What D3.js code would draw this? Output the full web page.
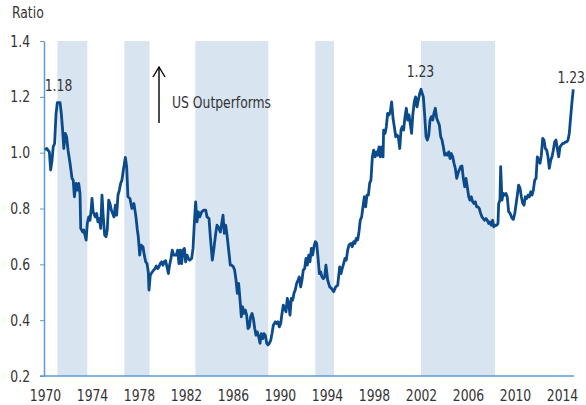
<!DOCTYPE html>
<html lang="en">
<head>
	<script src="https://cdnjs.cloudflare.com/ajax/libs/d3/7.8.5/d3.min.js"></script>
	<style>
		body{ margin: 0; background: #fff; }
		svg text{
			font-family: "Liberation Sans Narrow", "DejaVu Sans Condensed", sans-serif;
			font-size: 16px;
			fill: #333;
		}
		.axis path, .axis line{ stroke: #5b9bd5; }
	</style>
</head>
<body>
<svg width="586" height="405"></svg>

<script>

	// US vs rest-of-world ratio
	const years = [
		1970.0, 1970.14, 1970.37, 1970.48, 1970.6, 1970.7, 1970.82, 1970.94, 1971.05, 1971.28, 1971.39, 1971.5, 1971.6, 1971.73, 1971.84, 1971.96,
		1972.13, 1972.3, 1972.4, 1972.5, 1972.64, 1972.75, 1972.87, 1972.98, 1973.04, 1973.2, 1973.3, 1973.5, 1973.6, 1973.72, 1973.83, 1973.94,
		1974.0, 1974.1, 1974.28, 1974.4, 1974.5, 1974.62, 1974.74, 1974.85, 1974.96, 1975.08, 1975.19, 1975.3, 1975.42, 1975.53, 1975.65, 1975.76,
		1975.87, 1975.99, 1976.1, 1976.21, 1976.33, 1976.44, 1976.55, 1976.67, 1976.84, 1976.95, 1977.06, 1977.23, 1977.4, 1977.57, 1977.74,
		1977.86, 1977.94, 1978.06, 1978.17, 1978.34, 1978.45, 1978.57, 1978.68, 1978.79, 1978.85, 1978.96, 1979.13, 1979.25, 1979.36, 1979.47,
		1979.59, 1979.7, 1979.81, 1979.93, 1980.04, 1980.15, 1980.27, 1980.38, 1980.5, 1980.6, 1980.72, 1980.83, 1980.95, 1981.06, 1981.17,
		1981.29, 1981.4, 1981.51, 1981.63, 1981.74, 1981.86, 1981.97, 1982.09, 1982.2, 1982.31, 1982.48, 1982.6, 1982.7, 1982.82, 1982.94,
		1983.05, 1983.17, 1983.34, 1983.5, 1983.68, 1983.79, 1983.96, 1984.07, 1984.24, 1984.36, 1984.53, 1984.64, 1984.81, 1984.92, 1985.04,
		1985.15, 1985.26, 1985.38, 1985.49, 1985.6, 1985.77, 1985.89, 1986.03, 1986.14, 1986.26, 1986.37, 1986.48, 1986.6, 1986.71, 1986.82,
		1986.94, 1987.05, 1987.16, 1987.28, 1987.39, 1987.5, 1987.62, 1987.73, 1987.85, 1987.96, 1988.07, 1988.19, 1988.3, 1988.41, 1988.53,
		1988.64, 1988.75, 1988.87, 1988.98, 1989.09, 1989.21, 1989.32, 1989.43, 1989.6, 1989.72, 1989.83, 1989.94, 1990.06, 1990.17, 1990.28,
		1990.4, 1990.51, 1990.62, 1990.74, 1990.85, 1990.96, 1991.08, 1991.19, 1991.3, 1991.42, 1991.53, 1991.64, 1991.76, 1991.87, 1991.98,
		1992.1, 1992.21, 1992.33, 1992.44, 1992.55, 1992.67, 1992.78, 1992.89, 1993.01, 1993.12, 1993.23, 1993.35, 1993.46, 1993.57, 1993.69,
		1993.8, 1993.91, 1994.06, 1994.23, 1994.4, 1994.57, 1994.74, 1994.91, 1995.08, 1995.19, 1995.3, 1995.42, 1995.53, 1995.64, 1995.76,
		1995.87, 1996.04, 1996.15, 1996.27, 1996.38, 1996.49, 1996.61, 1996.72, 1996.83, 1996.95, 1997.06, 1997.18, 1997.29, 1997.4, 1997.52,
		1997.63, 1997.74, 1997.86, 1997.97, 1998.09, 1998.2, 1998.31, 1998.43, 1998.54, 1998.65, 1998.77, 1998.82, 1998.94, 1999.05, 1999.16,
		1999.28, 1999.39, 1999.5, 1999.62, 1999.73, 1999.85, 1999.96, 2000.07, 2000.19, 2000.3, 2000.4, 2000.52, 2000.64, 2000.75, 2000.87,
		2000.98, 2001.1, 2001.2, 2001.3, 2001.43, 2001.54, 2001.66, 2001.77, 2001.89, 2002.0, 2002.2, 2002.32, 2002.43, 2002.54, 2002.66,
		2002.77, 2002.88, 2003.0, 2003.1, 2003.22, 2003.34, 2003.45, 2003.56, 2003.68, 2003.79, 2003.9, 2004.02, 2004.13, 2004.24, 2004.36,
		2004.47, 2004.58, 2004.7, 2004.81, 2004.92, 2005.04, 2005.15, 2005.26, 2005.38, 2005.49, 2005.6, 2005.72, 2005.83, 2005.94, 2006.06,
		2006.17, 2006.28, 2006.4, 2006.5, 2006.62, 2006.74, 2006.85, 2006.96, 2007.08, 2007.19, 2007.3, 2007.42, 2007.53, 2007.64, 2007.76,
		2007.87, 2007.98, 2008.1, 2008.2, 2008.33, 2008.44, 2008.55, 2008.61, 2008.72, 2008.78, 2008.89, 2009.0, 2009.12, 2009.23, 2009.34,
		2009.46, 2009.57, 2009.74, 2009.86, 2009.98, 2010.14, 2010.31, 2010.43, 2010.54, 2010.66, 2010.77, 2010.88, 2011.0, 2011.11, 2011.22,
		2011.34, 2011.45, 2011.56, 2011.68, 2011.79, 2011.9, 2012.02, 2012.13, 2012.24, 2012.36, 2012.47, 2012.58, 2012.7, 2012.81, 2012.92,
		2013.04, 2013.15, 2013.26, 2013.38, 2013.49, 2013.6, 2013.72, 2013.83, 2013.94, 2014.06, 2014.17, 2014.28, 2014.4, 2014.51, 2014.62,
		2014.74, 2014.85, 2014.96
	];
	const ratio = [
		1.01, 1.015, 1.003, 0.938, 0.973, 1.021, 1.033, 1.14, 1.179, 1.179, 1.14, 1.081, 1.015, 1.069, 1.057, 1.009,
		0.962, 0.908, 0.902, 0.842, 0.89, 0.866, 0.89, 0.854, 0.729, 0.716, 0.723, 0.687, 0.746, 0.77, 0.758, 0.8,
		0.836, 0.788, 0.77, 0.782, 0.752, 0.764, 0.729, 0.848, 0.77, 0.705, 0.699, 0.723, 0.83, 0.818, 0.794, 0.782,
		0.77, 0.812, 0.776, 0.848, 0.866, 0.89, 0.902, 0.938, 0.983, 0.95, 0.842, 0.836, 0.8, 0.818, 0.77,
		0.723, 0.699, 0.633, 0.669, 0.663, 0.633, 0.609, 0.603, 0.573, 0.508, 0.561, 0.573, 0.579, 0.585, 0.594,
		0.585, 0.591, 0.603, 0.609, 0.597, 0.609, 0.613, 0.591, 0.567, 0.597, 0.621, 0.651, 0.633, 0.633, 0.633,
		0.651, 0.603, 0.651, 0.603, 0.651, 0.657, 0.609, 0.633, 0.621, 0.615, 0.621, 0.657, 0.74, 0.824, 0.752,
		0.788, 0.77, 0.788, 0.794, 0.794, 0.77, 0.764, 0.699, 0.615, 0.651, 0.711, 0.74, 0.729, 0.716, 0.746,
		0.776, 0.711, 0.74, 0.705, 0.663, 0.597, 0.597, 0.591, 0.579, 0.543, 0.496, 0.532, 0.472, 0.412, 0.448,
		0.424, 0.436, 0.418, 0.37, 0.376, 0.412, 0.424, 0.406, 0.37, 0.346, 0.358, 0.34, 0.317, 0.352, 0.334,
		0.352, 0.346, 0.317, 0.311, 0.317, 0.328, 0.352, 0.382, 0.394, 0.388, 0.394, 0.376, 0.388, 0.424, 0.454,
		0.442, 0.43, 0.478, 0.46, 0.418, 0.478, 0.472, 0.496, 0.508, 0.532, 0.543, 0.555, 0.519, 0.543, 0.579,
		0.585, 0.621, 0.597, 0.633, 0.609, 0.657, 0.633, 0.663, 0.681, 0.675, 0.627, 0.567, 0.573, 0.555, 0.549,
		0.555, 0.597, 0.543, 0.519, 0.513, 0.502, 0.519, 0.525, 0.591, 0.567, 0.585, 0.603, 0.621, 0.615, 0.651,
		0.669, 0.675, 0.663, 0.681, 0.675, 0.693, 0.687, 0.716, 0.758, 0.77, 0.806, 0.842, 0.806, 0.848, 0.848,
		0.89, 0.902, 0.985, 1.009, 0.985, 1.003, 0.991, 1.021, 0.985, 1.021, 0.985, 1.081, 1.069, 1.093, 1.141,
		1.135, 1.147, 1.182, 1.123, 1.093, 1.057, 1.063, 1.057, 1.015, 1.081, 1.093, 1.081, 1.129, 1.159, 1.117,
		1.135, 1.099, 1.069, 1.135, 1.182, 1.2, 1.164, 1.188, 1.212, 1.227, 1.2, 1.129, 1.057, 1.045, 1.063,
		1.117, 1.129, 1.117, 1.141, 1.159, 1.123, 1.111, 1.099, 1.057, 1.045, 1.021, 0.991, 0.997, 0.991, 1.003,
		0.979, 0.997, 0.985, 0.962, 0.944, 0.908, 0.926, 0.938, 0.95, 0.952, 0.908, 0.878, 0.908, 0.878, 0.842,
		0.83, 0.842, 0.824, 0.818, 0.824, 0.806, 0.806, 0.8, 0.782, 0.77, 0.764, 0.758, 0.764, 0.758, 0.746,
		0.752, 0.74, 0.758, 0.734, 0.74, 0.74, 0.746, 0.818, 0.83, 0.95, 0.83, 0.854, 0.848, 0.854, 0.842,
		0.788, 0.784, 0.766, 0.761, 0.782, 0.83, 0.884, 0.872, 0.842, 0.818, 0.812, 0.842, 0.836, 0.848, 0.842,
		0.86, 0.848, 0.866, 0.902, 0.908, 0.985, 0.973, 0.962, 0.991, 1.051, 1.045, 1.015, 1.009, 0.985, 0.944,
		0.973, 0.985, 1.009, 1.039, 1.045, 1.015, 0.985, 1.021, 1.027, 1.033, 1.033, 1.039, 1.039, 1.045, 1.069,
		1.129, 1.182, 1.227
	];

	// shaded periods
	const bandStart = [1971.05, 1976.75, 1982.8, 1993.0, 2002.0];
	const bandEnd   = [1973.6, 1978.9, 1989.0, 1994.6, 2008.3];

	const xTicks = [1970, 1974, 1978, 1982, 1986, 1990, 1994, 1998, 2002, 2006, 2010, 2014];
	const yTicks = [0.2, 0.4, 0.6, 0.8, 1.0, 1.2, 1.4];

	const noteYears  = [1971.15, 2001.95, 2014.9];
	const noteValues = [1.18, 1.23, 1.23];
	const noteLabels = ["1.18", "1.23", "1.23"];

	// the only condensed font here is a bit wide, squeeze it
	const sx = 0.86;

	const svg = d3.select('svg');

	const x = d3.scaleLinear().domain([1970, 2014]).range([45, 562]);
	const y = d3.scaleLinear().domain([0.2, 1.4]).range([376, 41]);

	svg.selectAll('.band')
		.data(bandStart)
		.enter()
		.append('rect')
		.attr('class', 'band')
		.attr('x', (d) => x(d))
		.attr('width', (d, i) => x(bandEnd[i]) - x(d))
		.attr('y', y(1.4))
		.attr('height', y(0.2) - y(1.4))
		.attr('fill', '#d8e5f1');

	// y axis
	const yAxis = svg.append('g')
		.attr('class', 'axis')
		.attr('transform', 'translate(44,0)')
		.call(d3.axisLeft(y).tickValues(yTicks).tickSize(4).tickSizeOuter(0).tickPadding(10)
			.tickFormat(d3.format('.1f')));
	yAxis.select('.domain').attr('stroke-width', 1.5);
	yAxis.selectAll('text')
		.attr('x', -14 / sx)
		.attr('transform', `scale(${sx},1)`);

	// x axis, no ticks, line runs a bit past the last label
	const xAxis = svg.append('g')
		.attr('class', 'axis')
		.attr('transform', 'translate(0,376)')
		.call(d3.axisBottom(x).tickValues(xTicks).tickSize(0).tickPadding(14).tickFormat(d3.format('d')));
	xAxis.select('.domain').remove();
	xAxis.selectAll('text').attr('transform', `scale(${sx},1)`);
	xAxis.append('line')
		.attr('x1', 40).attr('x2', 574)
		.attr('stroke', '#5b9bd5').attr('stroke-width', 1.5);
	svg.selectAll('.axis text').attr('fill', '#333').style('font-size', '16px');

	const line = d3.line()
		.x((d, i) => x(years[i]))
		.y((d) => y(d));

	svg.append('path')
		.datum(ratio)
		.attr('d', line)
		.attr('fill', 'none')
		.attr('stroke', '#0b4a8b')
		.attr('stroke-width', 2.8)
		.attr('stroke-linejoin', 'round');

	function label(px, py, txt, anchor) {
		return svg.append('text')
			.attr('transform', `translate(${px},${py}) scale(${sx},1)`)
			.attr('text-anchor', anchor || 'start')
			.text(txt);
	}

	label(12, 18, 'Ratio');

	label(x(noteYears[0]), y(noteValues[0]) - 11, noteLabels[0], 'middle');
	label(x(noteYears[1]), y(noteValues[1]) - 11, noteLabels[1], 'middle');
	label(585, y(noteValues[2]) - 5, noteLabels[2], 'end');

	// arrow + label
	const arrow = svg.append('g').attr('stroke', '#000').attr('stroke-width', 1.4).attr('fill', 'none');
	arrow.append('line').attr('x1', 159).attr('x2', 159).attr('y1', 67).attr('y2', 123);
	arrow.append('polyline').attr('points', '153,77 159,67 165,77');

	label(172, 108, 'US Outperforms');

</script>
</body>
</html>
